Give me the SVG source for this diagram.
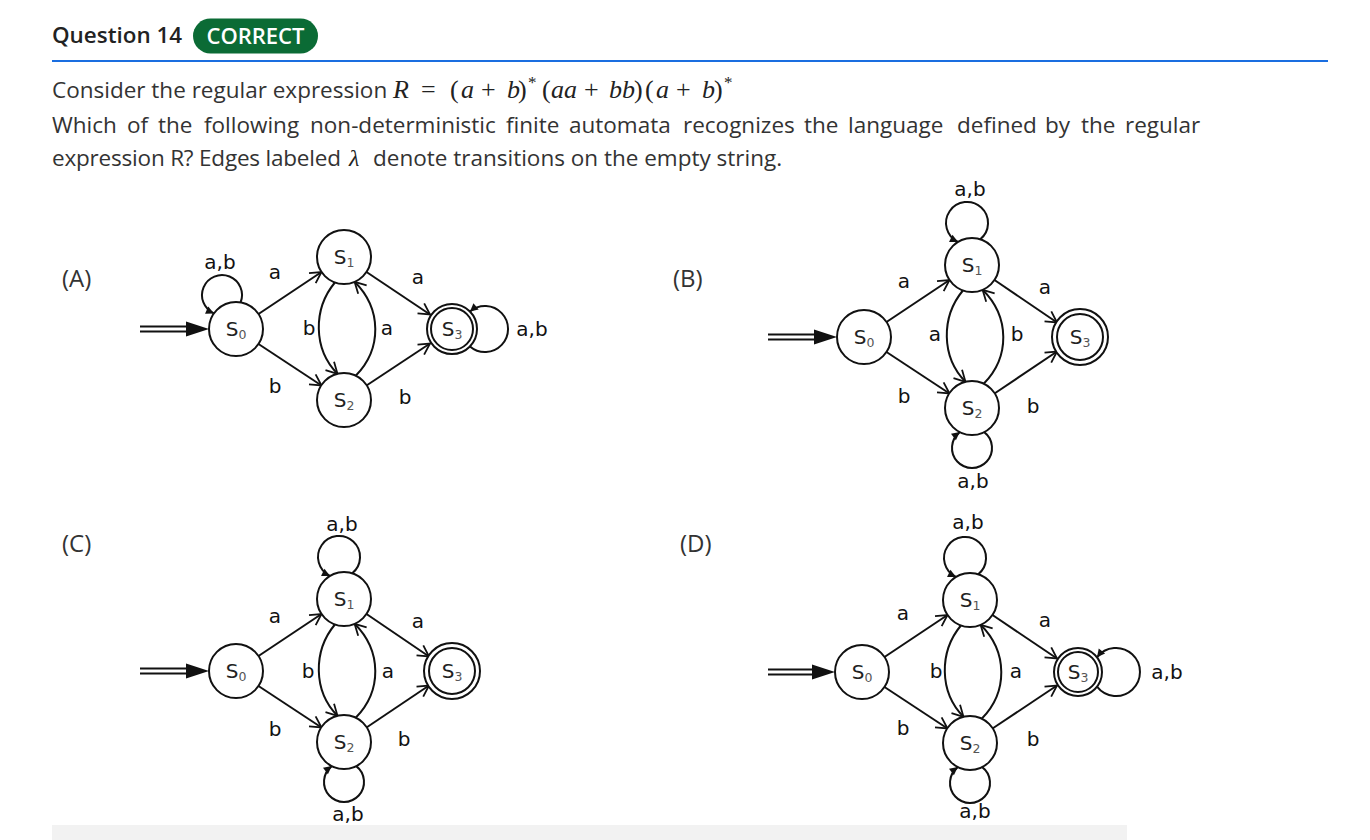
<svg xmlns="http://www.w3.org/2000/svg" width="1370" height="840" viewBox="0 0 1370 840">
<style>
.body{font-family:"Open Sans","Noto Sans",sans-serif;font-size:22.5px;fill:#333}
.math{font-family:"Liberation Serif",serif;font-size:26px;fill:#222}
.mi{font-style:italic}
.opt{font-family:"Open Sans","Noto Sans",sans-serif;font-size:24px;fill:#333}
.node{fill:#fff;stroke:#111;stroke-width:2}
.nl{font-family:"DejaVu Sans",Verdana,sans-serif;font-size:20px;fill:#222;text-anchor:middle}
.sub{font-size:12.5px;fill:#555}
.lbl{font-family:"DejaVu Sans",Verdana,sans-serif;font-size:20px;fill:#111;text-anchor:middle}
.edge{fill:none;stroke:#111;stroke-width:2;marker-end:url(#open)}
.loop{fill:none;stroke:#111;stroke-width:2;marker-end:url(#solid)}
.start{stroke:#111;stroke-width:2}
</style>
<defs>
<marker id="open" markerUnits="userSpaceOnUse" markerWidth="14" markerHeight="14" refX="12" refY="6.5" orient="auto" overflow="visible">
<path d="M1,0.5 L12,6.5 L1,12.5" fill="none" stroke="#111" stroke-width="1.8"/>
</marker>
<marker id="solid" markerUnits="userSpaceOnUse" markerWidth="10" markerHeight="10" refX="8" refY="4" orient="auto" overflow="visible">
<path d="M0,0 L8,4 L0,8 Z" fill="#111"/>
</marker>
</defs>

<rect width="1370" height="840" fill="#fff"/>

<!-- header -->
<text x="52" y="43" style="font-family:'Open Sans','Noto Sans',sans-serif;font-size:22.4px;font-weight:600;fill:#222">Question 14</text>
<rect x="193" y="18.5" width="125" height="35" rx="17.5" fill="#0b6b35"/>
<text x="255.5" y="44" text-anchor="middle" style="font-family:'Open Sans','Noto Sans',sans-serif;font-size:22px;font-weight:600;fill:#fff">CORRECT</text>
<line x1="52" y1="61" x2="1328" y2="61" stroke="#1a6ee0" stroke-width="2"/>

<text class="body" x="52" y="98">Consider the regular expression</text>
<text class="math" y="98"><tspan class="mi" x="393">R</tspan><tspan x="421">=</tspan><tspan x="450">(</tspan><tspan class="mi" x="461">a</tspan><tspan x="481">+</tspan><tspan class="mi" x="507">b</tspan><tspan x="518">)</tspan><tspan x="528" y="88" style="font-size:17px">*</tspan><tspan x="542" y="98">(</tspan><tspan class="mi" x="551">aa</tspan><tspan x="584">+</tspan><tspan class="mi" x="609">bb</tspan><tspan x="634">)</tspan><tspan x="645">(</tspan><tspan class="mi" x="656">a</tspan><tspan x="676">+</tspan><tspan class="mi" x="702">b</tspan><tspan x="714">)</tspan><tspan x="724" y="88" style="font-size:17px">*</tspan></text>
<text class="body" y="133"><tspan x="52">Which</tspan><tspan x="127">of</tspan><tspan x="158">the</tspan><tspan x="204">following</tspan><tspan x="310">non-deterministic</tspan><tspan x="506">finite</tspan><tspan x="569">automata</tspan><tspan x="683">recognizes</tspan><tspan x="804">the</tspan><tspan x="848">language</tspan><tspan x="957">defined</tspan><tspan x="1045">by</tspan><tspan x="1081">the</tspan><tspan x="1125">regular</tspan></text>
<text class="body" y="166"><tspan x="52" textLength="289" lengthAdjust="spacing">expression R? Edges labeled</tspan><tspan x="349" style="font-family:'Liberation Serif',serif;font-style:italic;font-size:24px;fill:#222">λ</tspan><tspan x="373">denote transitions on the empty string.</tspan></text>

<!-- option labels -->
<text class="opt" x="62" y="287">(A)</text>
<text class="opt" x="673" y="287">(B)</text>
<text class="opt" x="62" y="552">(C)</text>
<text class="opt" x="680" y="552">(D)</text>

<!-- ================= Diagram A ================= -->
<g id="diagA" transform="translate(236,329)">
<g id="A-connectors">
<line class="start" x1="-96" y1="-2.5" x2="-48" y2="-2.5"/>
<line class="start" x1="-96" y1="2.5" x2="-48" y2="2.5"/>
<polygon points="-50,-7.5 -27,0 -50,7.5" fill="#111"/>
<path class="edge" d="M22.5,-15 L85.5,-57"/>
<path class="edge" d="M22.5,15 L85.5,56.5"/>
<path class="edge" d="M130.5,-57 L194,-14.5"/>
<path class="edge" d="M130.5,56.5 L194,14.5"/>
<path class="edge" d="M98.9,-46.5 C77,-20 77,20 101.5,44.8"/>
<path class="edge" d="M119.7,46.7 C146,20 146,-20 118.6,-47.2"/>
<path class="loop" d="M4.6,-26.6 A20,20 0 1 0 -22,-15.6"/>
<path class="loop" d="M234,17.4 A23,23 0 1 0 234,-17.4"/>
<text class="lbl" x="-16" y="-60">a,b</text>
<text class="lbl" x="39" y="-50">a</text>
<text class="lbl" x="182" y="-45">a</text>
<text class="lbl" x="39" y="64">b</text>
<text class="lbl" x="169" y="75">b</text>
<text class="lbl" x="73" y="6">b</text>
<text class="lbl" x="151" y="6">a</text>
<text class="lbl" x="296" y="7">a,b</text>
</g>
<g id="A-S0"><circle class="node" cx="0" cy="0" r="27"/><text class="nl" x="0" y="7">S<tspan class="sub" dy="3">0</tspan></text></g>
<g id="A-S1"><circle class="node" cx="108" cy="-72" r="27"/><text class="nl" x="108" y="-65">S<tspan class="sub" dy="3">1</tspan></text></g>
<g id="A-S2"><circle class="node" cx="108" cy="71" r="27"/><text class="nl" x="108" y="78">S<tspan class="sub" dy="3">2</tspan></text></g>
<g id="A-S3"><circle class="node" cx="216" cy="0" r="25"/><circle class="node" cx="216" cy="0" r="21"/><text class="nl" x="216" y="7">S<tspan class="sub" dy="3">3</tspan></text></g>
</g>

<!-- ================= Diagram B ================= -->
<g id="diagB" transform="translate(864,337)">
<g id="B-connectors">
<line class="start" x1="-96" y1="-2.5" x2="-48" y2="-2.5"/>
<line class="start" x1="-96" y1="2.5" x2="-48" y2="2.5"/>
<polygon points="-50,-7.5 -27,0 -50,7.5" fill="#111"/>
<path class="edge" d="M22.5,-15 L85.5,-57"/>
<path class="edge" d="M22.5,15 L85.5,56.5"/>
<path class="edge" d="M130.5,-57 L193,-14.5"/>
<path class="edge" d="M130.5,56.5 L193,14.5"/>
<path class="edge" d="M98.9,-46.5 C77,-20 77,20 101.5,44.8"/>
<path class="edge" d="M119.7,46.7 C146,20 146,-20 118.6,-47.2"/>
<path class="loop" d="M116.2,-97.7 A21,21 0 1 0 94,-95.1"/>
<path class="loop" d="M120.2,95.1 A20,20 0 1 1 95.8,95.1"/>
<text class="lbl" x="106" y="-141">a,b</text>
<text class="lbl" x="40" y="-49">a</text>
<text class="lbl" x="181" y="-43">a</text>
<text class="lbl" x="40" y="66">b</text>
<text class="lbl" x="169" y="76">b</text>
<text class="lbl" x="71" y="4">a</text>
<text class="lbl" x="153" y="4">b</text>
<text class="lbl" x="109" y="151">a,b</text>
</g>
<g id="B-S0"><circle class="node" cx="0" cy="0" r="27"/><text class="nl" x="0" y="7">S<tspan class="sub" dy="3">0</tspan></text></g>
<g id="B-S1"><circle class="node" cx="108" cy="-72" r="27"/><text class="nl" x="108" y="-65">S<tspan class="sub" dy="3">1</tspan></text></g>
<g id="B-S2"><circle class="node" cx="108" cy="71" r="27"/><text class="nl" x="108" y="78">S<tspan class="sub" dy="3">2</tspan></text></g>
<g id="B-S3"><circle class="node" cx="216" cy="0" r="28"/><circle class="node" cx="216" cy="0" r="23"/><text class="nl" x="216" y="7">S<tspan class="sub" dy="3">3</tspan></text></g>
</g>

<!-- ================= Diagram C ================= -->
<g id="diagC" transform="translate(236,671)">
<g id="C-connectors">
<line class="start" x1="-96" y1="-2.5" x2="-48" y2="-2.5"/>
<line class="start" x1="-96" y1="2.5" x2="-48" y2="2.5"/>
<polygon points="-50,-7.5 -27,0 -50,7.5" fill="#111"/>
<path class="edge" d="M22.5,-15 L85.5,-57"/>
<path class="edge" d="M22.5,15 L85.5,56.5"/>
<path class="edge" d="M130.5,-57 L193,-14.5"/>
<path class="edge" d="M130.5,56.5 L193,14.5"/>
<path class="edge" d="M98.9,-46.5 C77,-20 77,20 101.5,44.8"/>
<path class="edge" d="M119.7,46.7 C146,20 146,-20 118.6,-47.2"/>
<path class="loop" d="M116.2,-97.7 A21,21 0 1 0 94,-95.1"/>
<path class="loop" d="M120.2,95.1 A20,20 0 1 1 95.8,95.1"/>
<text class="lbl" x="106" y="-140">a,b</text>
<text class="lbl" x="39" y="-48">a</text>
<text class="lbl" x="182" y="-43">a</text>
<text class="lbl" x="39" y="65">b</text>
<text class="lbl" x="168" y="75">b</text>
<text class="lbl" x="72" y="7">b</text>
<text class="lbl" x="152" y="7">a</text>
<text class="lbl" x="112" y="150">a,b</text>
</g>
<g id="C-S0"><circle class="node" cx="0" cy="0" r="27"/><text class="nl" x="0" y="7">S<tspan class="sub" dy="3">0</tspan></text></g>
<g id="C-S1"><circle class="node" cx="108" cy="-72" r="27"/><text class="nl" x="108" y="-65">S<tspan class="sub" dy="3">1</tspan></text></g>
<g id="C-S2"><circle class="node" cx="108" cy="71" r="27"/><text class="nl" x="108" y="78">S<tspan class="sub" dy="3">2</tspan></text></g>
<g id="C-S3"><circle class="node" cx="216" cy="0" r="28"/><circle class="node" cx="216" cy="0" r="23"/><text class="nl" x="216" y="7">S<tspan class="sub" dy="3">3</tspan></text></g>
</g>

<!-- ================= Diagram D ================= -->
<g id="diagD" transform="translate(862,672)">
<g id="D-connectors">
<line class="start" x1="-94" y1="-2.5" x2="-48" y2="-2.5"/>
<line class="start" x1="-94" y1="2.5" x2="-48" y2="2.5"/>
<polygon points="-50,-7.5 -27,0 -50,7.5" fill="#111"/>
<path class="edge" d="M22.5,-15 L85.5,-57"/>
<path class="edge" d="M22.5,15 L85.5,56.5"/>
<path class="edge" d="M130.5,-57 L195,-13.5"/>
<path class="edge" d="M130.5,56.5 L195,13.5"/>
<path class="edge" d="M98.9,-46.5 C77,-20 77,20 101.5,44.8"/>
<path class="edge" d="M119.7,46.7 C146,20 146,-20 118.6,-47.2"/>
<path class="loop" d="M116.2,-97.7 A21,21 0 1 0 94,-95.1"/>
<path class="loop" d="M120.2,95.1 A20,20 0 1 1 95.8,95.1"/>
<path class="loop" d="M235,14.7 A24,24 0 1 0 235,-14.7"/>
<text class="lbl" x="106" y="-143">a,b</text>
<text class="lbl" x="41" y="-52">a</text>
<text class="lbl" x="183" y="-45">a</text>
<text class="lbl" x="41" y="63">b</text>
<text class="lbl" x="171" y="74">b</text>
<text class="lbl" x="74" y="6">b</text>
<text class="lbl" x="154" y="6">a</text>
<text class="lbl" x="113" y="146">a,b</text>
<text class="lbl" x="305" y="7">a,b</text>
</g>
<g id="D-S0"><circle class="node" cx="0" cy="0" r="27"/><text class="nl" x="0" y="7">S<tspan class="sub" dy="3">0</tspan></text></g>
<g id="D-S1"><circle class="node" cx="108" cy="-72" r="27"/><text class="nl" x="108" y="-65">S<tspan class="sub" dy="3">1</tspan></text></g>
<g id="D-S2"><circle class="node" cx="108" cy="71" r="27"/><text class="nl" x="108" y="78">S<tspan class="sub" dy="3">2</tspan></text></g>
<g id="D-S3"><circle class="node" cx="216" cy="0" r="24"/><circle class="node" cx="216" cy="0" r="20"/><text class="nl" x="216" y="7">S<tspan class="sub" dy="3">3</tspan></text></g>
</g>

<rect x="52" y="825" width="1075" height="15" fill="#f2f2f2"/>
</svg>
